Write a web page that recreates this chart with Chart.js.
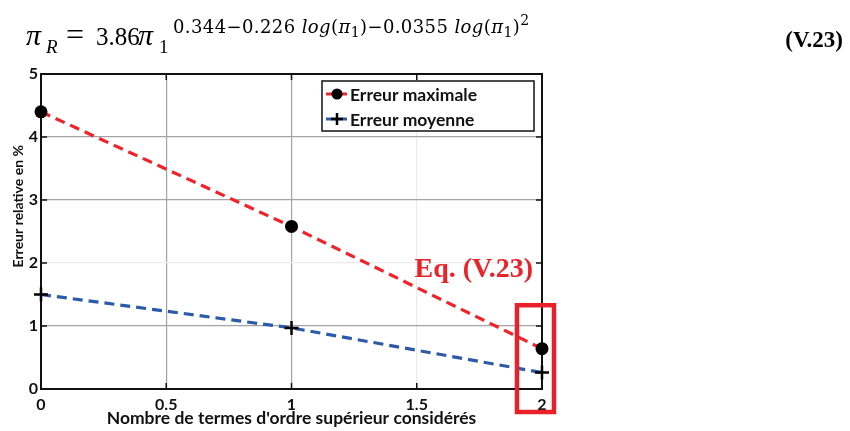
<!DOCTYPE html>
<html>
<head>
<meta charset="utf-8">
<script src="https://cdn.jsdelivr.net/npm/chart.js@4"></script>
<style>
  html, body { margin: 0; padding: 0; background: #fff; }
  #wrap { position: relative; width: 850px; height: 431px; overflow: hidden; }
  #chart { position: absolute; left: 0; top: 0; }
  /* line-height 0 : la ligne de base tombe à environ top + 0.34 * taille */
  .eq { position: absolute; display: block; line-height: 0; white-space: nowrap; color: #000; font-family: 'Liberation Serif', serif; }
  .eq i, i.eq { font-style: italic; }
  .expo { font-family: 'DejaVu Serif', serif; font-size: 18px; letter-spacing: 0.4px; }
  .lo2 { position: relative; top: 4px; font-size: 14px; }
  .hi { position: relative; top: -8px; font-size: 14px; }
</style>
</head>
<body>
<div id="wrap">
  <canvas id="chart" width="850" height="431"></canvas>
  <!-- formule au-dessus du graphique -->
  <i class="eq" style="left:26px; top:35px; font-size:30px;">π</i>
  <i class="eq" style="left:46px; top:46.5px; font-size:19px;">R</i>
  <span class="eq" style="left:66px; top:34px; font-size:32px;">=</span>
  <span class="eq" style="left:96px; top:36.5px; font-size:25px;">3.86</span>
  <i class="eq" style="left:138px; top:35px; font-size:30px;">π</i>
  <span class="eq" style="left:159px; top:46.5px; font-size:19px;">1</span>
  <span class="eq expo" style="left:173px; top:27px;">0.344−0.226 <i>log</i>(<i>π</i><span class="lo2">1</span>)−0.0355 <i>log</i>(<i>π</i><span class="lo2">1</span>)<span class="hi">2</span></span>
  <span class="eq" style="right:7px; top:40px; font-size:23px; font-weight:bold;">(V.23)</span>
</div>
<script>
// Données
const xTerms = [0, 1, 2];
const errMax = [4.4, 2.58, 0.64];
const errMoy = [1.5, 0.97, 0.26];
const seriesLabels = ['Erreur maximale', 'Erreur moyenne'];
const xTicks = [0, 0.5, 1, 1.5, 2];
const yTicks = [0, 1, 2, 3, 4, 5];
const xFaint = [1.5];
const yFaint = [2];
const xTitle = "Nombre de termes d'ordre supérieur considérés";
const yTitle = 'Erreur relative en %';
const eqLabel = 'Eq. (V.23)';

const RED = '#f0232a';
const BLUE = '#2b5aa8';
const AXIS = '#111';

Chart.defaults.font.family = 'Lato';
Chart.defaults.font.weight = 'bold';
Chart.defaults.color = AXIS;

// couleur des lignes de grille
function gridColor(faint, max) {
  return ctx => {
    const v = ctx.tick ? ctx.tick.value : null;
    if (v === 0 || v === max) return 'rgba(0,0,0,0)';
    return faint.includes(v) ? '#ececec' : '#a3a3a3';
  };
}

// cadre + petits traits de graduation vers l'intérieur
const boxPlugin = {
  id: 'box',
  beforeDatasetsDraw(chart) {
    const { ctx, chartArea: a, scales: { x, y } } = chart;
    ctx.save();
    ctx.strokeStyle = AXIS;
    ctx.lineWidth = 1.5;
    ctx.beginPath();
    xTicks.forEach(v => {
      const px = x.getPixelForValue(v);
      ctx.moveTo(px, a.bottom); ctx.lineTo(px, a.bottom - 6);
      ctx.moveTo(px, a.top); ctx.lineTo(px, a.top + 6);
    });
    yTicks.forEach(v => {
      const py = y.getPixelForValue(v);
      ctx.moveTo(a.left, py); ctx.lineTo(a.left + 6, py);
      ctx.moveTo(a.right, py); ctx.lineTo(a.right - 6, py);
    });
    ctx.stroke();
    ctx.lineWidth = 2;
    ctx.strokeRect(a.left, a.top, a.right - a.left, a.bottom - a.top);
    ctx.restore();
  }
};

// titre de l'axe Y (décalé vers le haut comme sur la figure)
const yTitlePlugin = {
  id: 'yTitle',
  afterDraw(chart) {
    const { ctx, scales: { y } } = chart;
    ctx.save();
    ctx.translate(18.5, y.getPixelForValue(2.9));
    ctx.rotate(-Math.PI / 2);
    ctx.font = 'bold 14px Lato';
    ctx.fillStyle = AXIS;
    ctx.textAlign = 'center';
    ctx.textBaseline = 'middle';
    ctx.fillText(yTitle, 0, 0);
    ctx.restore();
  }
};

// légende façon Matlab
const legendPlugin = {
  id: 'matLegend',
  afterDraw(chart) {
    const { ctx, chartArea: a } = chart;
    const w = 212, h = 50;
    const left = a.right - 8 - w, top = a.top + 7;
    ctx.save();
    ctx.fillStyle = '#fff';
    ctx.fillRect(left, top, w, h);
    ctx.strokeStyle = AXIS;
    ctx.lineWidth = 1.5;
    ctx.strokeRect(left, top, w, h);
    ctx.font = 'bold 17.5px Lato';
    ctx.textBaseline = 'middle';
    chart.data.datasets.forEach((ds, i) => {
      const cy = top + 13 + i * 25;
      ctx.strokeStyle = ds.borderColor;
      ctx.lineWidth = 3;
      ctx.beginPath();
      ctx.moveTo(left + 4, cy); ctx.lineTo(left + 25, cy);
      ctx.stroke();
      ctx.fillStyle = '#000';
      ctx.strokeStyle = '#000';
      if (ds.pointStyle === 'circle') {
        ctx.beginPath();
        ctx.arc(left + 15, cy, 5.5, 0, Math.PI * 2);
        ctx.fill();
      } else {
        ctx.lineWidth = 2.5;
        ctx.beginPath();
        ctx.moveTo(left + 9, cy); ctx.lineTo(left + 21, cy);
        ctx.moveTo(left + 15, cy - 6); ctx.lineTo(left + 15, cy + 6);
        ctx.stroke();
      }
      ctx.fillStyle = AXIS;
      ctx.fillText(ds.label, left + 28, cy + 1);
    });
    ctx.restore();
  }
};

// cadre rouge autour du dernier point + texte
const highlightPlugin = {
  id: 'highlight',
  afterDraw(chart) {
    const { ctx, chartArea: a, scales: { x, y } } = chart;
    const px = x.getPixelForValue(xTerms[xTerms.length - 1]);
    const l = px - 25, r = px + 12;
    const t = y.getPixelForValue(1.33), b = a.bottom + 23;
    ctx.save();
    ctx.strokeStyle = '#e8202a';
    ctx.lineWidth = 4.5;
    ctx.strokeRect(l, t, r - l, b - t);
    ctx.fillStyle = '#e8242b';
    ctx.font = 'bold 28px "Liberation Serif"';
    ctx.textAlign = 'right';
    ctx.textBaseline = 'alphabetic';
    ctx.fillText(eqLabel, l + 16, t - 28);
    ctx.restore();
  }
};

const toPoints = arr => xTerms.map((x, i) => ({ x, y: arr[i] }));

new Chart(document.getElementById('chart'), {
  type: 'line',
  data: {
    datasets: [
      {
        label: seriesLabels[0],
        data: toPoints(errMax),
        borderColor: RED,
        borderWidth: 3.2,
        borderDash: [10, 6],
        pointStyle: 'circle',
        pointRadius: 6.5,
        pointBackgroundColor: '#000',
        pointBorderColor: '#000',
        pointBorderWidth: 0,
        tension: 0,
        fill: false,
        clip: false
      },
      {
        label: seriesLabels[1],
        data: toPoints(errMoy),
        borderColor: BLUE,
        borderWidth: 3.2,
        borderDash: [10, 6],
        pointStyle: 'cross',
        pointRadius: 7,
        pointBorderColor: '#000',
        pointBackgroundColor: '#000',
        pointBorderWidth: 2.5,
        tension: 0,
        fill: false,
        clip: false
      }
    ]
  },
  options: {
    responsive: false,
    animation: false,
    layout: { padding: { top: 74, right: 308, bottom: 0, left: 0 } },
    scales: {
      x: {
        type: 'linear',
        min: 0,
        max: 2,
        afterBuildTicks: s => { s.ticks = xTicks.map(v => ({ value: v })); },
        afterFit: s => { s.height = 42; },
        ticks: { font: { size: 16, weight: 'bold' }, padding: 6, maxRotation: 0, autoSkip: false, callback: v => String(v) },
        grid: { drawTicks: false, color: gridColor(xFaint, 2), lineWidth: 1.2 },
        border: { display: false },
        title: { display: true, text: xTitle, font: { size: 17.5, weight: 'bold' }, padding: { top: 0, bottom: 2 } }
      },
      y: {
        min: 0,
        max: 5,
        afterBuildTicks: s => { s.ticks = yTicks.map(v => ({ value: v })); },
        afterFit: s => { s.width = 41; },
        ticks: { font: { size: 16, weight: 'bold' }, padding: 3, callback: v => String(v) },
        grid: { drawTicks: false, color: gridColor(yFaint, 5), lineWidth: 1.2 },
        border: { display: false }
      }
    },
    plugins: {
      legend: { display: false },
      tooltip: { enabled: false }
    }
  },
  plugins: [boxPlugin, yTitlePlugin, legendPlugin, highlightPlugin]
});
</script>
</body>
</html>
